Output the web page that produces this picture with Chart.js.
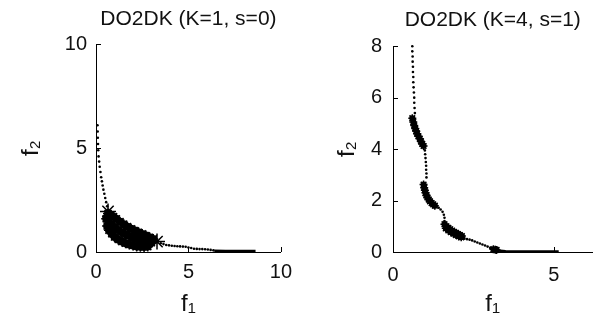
<!DOCTYPE html>
<html>
<head>
<meta charset="utf-8">
<script src="https://cdn.jsdelivr.net/npm/chart.js@4.4.1/dist/chart.umd.min.js"></script>
<style>
  body { margin: 0; background: #fff; }
  canvas { position: absolute; top: 0; }
  #leftChart { left: 0; }
  #rightChart { left: 300px; }
</style>
</head>
<body>
<canvas id="leftChart" width="300" height="321"></canvas>
<canvas id="rightChart" width="298" height="321"></canvas>
<script>
// --- left panel: DO2DK (K=1, s=0) ---
const leftTitle = 'DO2DK (K=1, s=0)';
const leftXTicks = [0, 5, 10];
const leftYTicks = [0, 5, 10];
const leftXMax = 10;
const leftYMax = 10;

// dotted part above the dense cluster
const leftCurveX = [0.08, 0.09, 0.1, 0.11, 0.12, 0.14, 0.17, 0.2, 0.24, 0.28, 0.32, 0.36, 0.4, 0.45, 0.5, 0.55, 0.6];
const leftCurveY = [6.1, 5.8, 5.5, 5.2, 4.9, 4.6, 4.35, 4.1, 3.85, 3.6, 3.4, 3.2, 3.0, 2.8, 2.6, 2.4, 2.2];

// dense cluster of solutions
const leftBlobX = [0.65, 0.8, 0.95, 1.1, 1.3, 1.5, 1.7, 1.9, 2.1, 2.3, 2.5, 2.7, 2.9, 3.1,
                   0.55, 0.7, 0.85, 1.0, 1.2, 1.4, 1.6, 1.8, 2.0, 2.2, 2.4, 2.6, 2.8, 3.0,
                   0.6, 0.7, 0.85, 1.0, 1.2, 1.4, 1.6, 1.8, 2.0, 2.2, 2.4, 2.6, 2.8];
const leftBlobY = [1.85, 1.78, 1.7, 1.6, 1.46, 1.34, 1.22, 1.12, 1.03, 0.95, 0.87, 0.79, 0.71, 0.63,
                   1.6, 1.45, 1.32, 1.2, 1.06, 0.95, 0.86, 0.77, 0.69, 0.62, 0.56, 0.51, 0.47, 0.45,
                   1.25, 1.05, 0.88, 0.72, 0.6, 0.5, 0.42, 0.36, 0.31, 0.27, 0.25, 0.24, 0.26];

// the two big asterisks at the ends of the cluster
const leftMarkX = [0.65, 3.3];
const leftMarkY = [1.95, 0.5];

// tail towards the x axis
const leftTailX = [3.5, 3.65, 3.8, 3.95, 4.1, 4.25, 4.4, 4.55, 4.7, 4.85, 5.0, 5.15, 5.3, 5.45, 5.6, 5.75, 5.9, 6.05, 6.2, 6.35];
const leftTailY = [0.42, 0.38, 0.34, 0.32, 0.3, 0.29, 0.28, 0.27, 0.26, 0.25, 0.22, 0.19, 0.16, 0.15, 0.14, 0.14, 0.13, 0.12, 0.1, 0.08];
const leftEndX = [6.4, 7.0, 7.8, 8.63];
const leftEndY = [0.06, 0.05, 0.05, 0.05];

// --- right panel: DO2DK (K=4, s=1) ---
const rightTitle = 'DO2DK (K=4, s=1)';
const rightXTicks = [0, 5];
const rightYTicks = [0, 2, 4, 6, 8];
const rightXMax = 6.2;
const rightYMax = 8;

const rightDotsX = [0.6, 0.6, 0.61, 0.61, 0.62, 0.62, 0.63, 0.63, 0.64, 0.65, 0.66, 0.66, 0.67, 0.68,
                    0.99, 1.0, 1.01, 1.02, 1.03, 1.03, 1.04, 1.04,
                    1.35, 1.42, 1.48, 1.54, 1.58, 1.6, 1.6,
                    2.22, 2.3, 2.38, 2.46, 2.54, 2.62, 2.7, 2.78, 2.86, 2.94, 3.02];
const rightDotsY = [8.0, 7.8, 7.6, 7.4, 7.2, 7.0, 6.8, 6.6, 6.4, 6.2, 6.0, 5.8, 5.6, 5.4,
                    3.95, 3.8, 3.65, 3.5, 3.35, 3.2, 3.05, 2.9,
                    1.78, 1.72, 1.65, 1.56, 1.45, 1.33, 1.2,
                    0.52, 0.5, 0.48, 0.45, 0.41, 0.37, 0.33, 0.29, 0.25, 0.21, 0.16];

const rightBlobX = [0.6, 0.63, 0.66, 0.69, 0.72, 0.75, 0.79, 0.83, 0.87, 0.91, 0.95,
                    0.95, 0.97, 0.99, 1.01, 1.04, 1.07, 1.11, 1.15, 1.2, 1.25, 1.3,
                    1.6, 1.66, 1.72, 1.78, 1.84, 1.9, 1.96, 2.02, 2.08, 2.14,
                    1.64, 1.72, 1.8, 1.88, 1.96, 2.04, 2.12,
                    3.12, 3.18, 3.22];
const rightBlobY = [5.2, 5.05, 4.92, 4.8, 4.7, 4.6, 4.5, 4.4, 4.3, 4.2, 4.12,
                    2.62, 2.5, 2.4, 2.3, 2.2, 2.12, 2.04, 1.97, 1.9, 1.85, 1.8,
                    1.08, 1.0, 0.94, 0.88, 0.83, 0.78, 0.74, 0.7, 0.66, 0.62,
                    0.92, 0.84, 0.77, 0.71, 0.66, 0.61, 0.57,
                    0.11, 0.09, 0.08];

const rightEndX = [3.25, 3.5, 4.0, 4.6, 5.15];
const rightEndY = [0.06, 0.03, 0.02, 0.02, 0.02];

const fontFamily = '"Liberation Sans", Arial, sans-serif';

function pts(xs, ys) {
  return xs.map((x, i) => ({ x: x, y: ys[i] }));
}

// matlab style ticks pointing into the plot
const inwardTicks = {
  id: 'inwardTicks',
  afterDatasetsDraw(chart) {
    const { ctx, chartArea, scales } = chart;
    ctx.save();
    ctx.strokeStyle = '#000';
    ctx.lineWidth = 1;
    ctx.beginPath();
    scales.x.ticks.forEach(t => {
      const px = Math.round(scales.x.getPixelForValue(t.value)) + 0.5;
      ctx.moveTo(px, chartArea.bottom);
      ctx.lineTo(px, chartArea.bottom - 5);
    });
    scales.y.ticks.forEach(t => {
      const py = Math.round(scales.y.getPixelForValue(t.value)) + 0.5;
      ctx.moveTo(chartArea.left, py);
      ctx.lineTo(chartArea.left + 5, py);
    });
    ctx.stroke();
    ctx.restore();
  }
};

function dots(data, r) {
  return { data: data, pointRadius: r, pointBackgroundColor: '#000', pointBorderWidth: 0, clip: false };
}
// filled core of a cluster
function fill(data, r) {
  return { data: data, pointRadius: r, pointBackgroundColor: '#000', pointBorderWidth: 0, clip: false };
}
function stars(data, r, w) {
  return { data: data, pointStyle: 'star', pointRadius: r, pointBorderColor: '#000', pointBorderWidth: w, clip: false };
}
function line(data, w) {
  return { data: data, showLine: true, borderColor: '#000', borderWidth: w, pointRadius: 0, clip: false };
}

function makeChart(id, p) {
  new Chart(document.getElementById(id), {
    type: 'scatter',
    data: { datasets: p.datasets },
    plugins: [inwardTicks],
    options: {
      responsive: false,
      animation: false,
      layout: { padding: { left: 0, right: p.padRight, top: 0, bottom: 0 } },
      plugins: {
        legend: { display: false },
        tooltip: { enabled: false },
        title: {
          display: true,
          text: p.title,
          fullSize: false,
          color: '#111',
          font: { family: fontFamily, size: 21, weight: 'normal' },
          padding: { top: p.titleTop, bottom: p.titleBottom }
        }
      },
      scales: {
        x: {
          type: 'linear',
          min: 0,
          max: p.xMax,
          afterFit: s => { s.height = 69; },
          afterBuildTicks: s => { s.ticks = p.xTicks.map(v => ({ value: v })); },
          grid: { display: false, drawTicks: false },
          border: { display: true, color: '#000', width: 1 },
          ticks: { color: '#111', padding: p.xTickPad, font: { family: fontFamily, size: 20 } },
          title: { display: true, text: 'f₁', color: '#111', font: { family: fontFamily, size: 24 }, padding: { top: 0, bottom: 2 } }
        },
        y: {
          type: 'linear',
          min: 0,
          max: p.yMax,
          afterFit: s => { s.width = p.yWidth; },
          afterBuildTicks: s => { s.ticks = p.yTicks.map(v => ({ value: v })); },
          grid: { display: false, drawTicks: false },
          border: { display: true, color: '#000', width: 1 },
          ticks: { color: '#111', padding: p.yTickPad, font: { family: fontFamily, size: 20 } },
          title: { display: true, text: 'f₂', color: '#111', font: { family: fontFamily, size: 24 }, padding: { top: p.yTitlePad, bottom: 0 } }
        }
      }
    }
  });
}

makeChart('leftChart', {
  title: leftTitle,
  xTicks: leftXTicks, yTicks: leftYTicks, xMax: leftXMax, yMax: leftYMax,
  padRight: 13, yWidth: 96, titleTop: 7, titleBottom: 12,
  xTickPad: 8, yTickPad: 9, yTitlePad: 17,
  datasets: [
    dots(pts(leftCurveX, leftCurveY), 1.3),
    fill(pts(leftBlobX, leftBlobY), 4),
    stars(pts(leftBlobX, leftBlobY), 5, 1.5),
    stars(pts(leftMarkX, leftMarkY), 8, 1.5),
    dots(pts(leftTailX, leftTailY), 1.3),
    line(pts(leftEndX, leftEndY), 2.5)
  ]
});

makeChart('rightChart', {
  title: rightTitle,
  xTicks: rightXTicks, yTicks: rightYTicks, xMax: rightXMax, yMax: rightYMax,
  padRight: 2, yWidth: 93, titleTop: 8, titleBottom: 13,
  xTickPad: 11, yTickPad: 11, yTitlePad: 33,
  datasets: [
    dots(pts(rightDotsX, rightDotsY), 1.3),
    fill(pts(rightBlobX, rightBlobY), 3),
    stars(pts(rightBlobX, rightBlobY), 4, 1.5),
    line(pts(rightEndX, rightEndY), 2.5)
  ]
});
</script>
</body>
</html>
